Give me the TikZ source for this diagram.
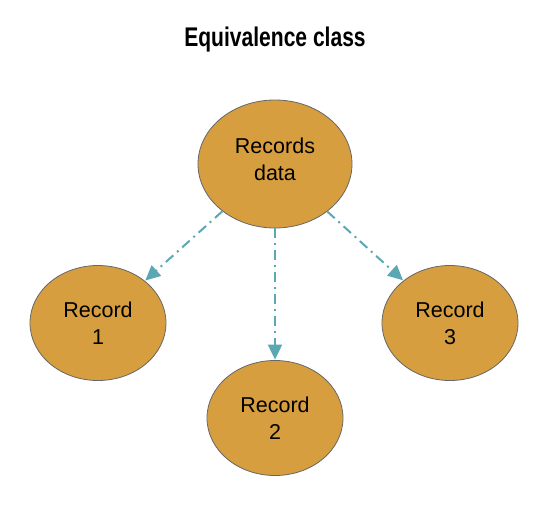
\documentclass[tikz,border=0pt]{standalone}
\usepackage{fontspec}
\setmainfont{Liberation Sans}
\newfontfamily\titlefont[FakeStretch=0.78]{Liberation Sans}
\usetikzlibrary{shapes.geometric,arrows.meta}
\definecolor{gold}{HTML}{D79E3F}
\definecolor{edge}{HTML}{666666}
\definecolor{teal}{HTML}{5BA8B5}
\begin{document}
\begin{tikzpicture}[x=1pt,y=-1pt,
  rec/.style={ellipse, draw=edge, line width=0.8pt, fill=gold, inner sep=0pt, align=center, font=\fontsize{21.5}{27}\selectfont},
  link/.style={draw=teal, line width=2pt, dash pattern=on 10pt off 5pt on 2pt off 5pt, -{Triangle[length=15pt,width=14pt]}, shorten >=0.5pt}]
\useasboundingbox (0,0) rectangle (543,506);
\node[font=\titlefont\bfseries\fontsize{27}{30}\selectfont] (title) at (275,40) {Equivalence class};
\node[rec, minimum width=154pt, minimum height=128pt, text depth=9pt] (root) at (275,164) {Records\\data};
\node[rec, minimum width=136pt, minimum height=115pt] (r1) at (98,323) {Record\\1};
\node[rec, minimum width=136pt, minimum height=115pt] (r2) at (275,418) {Record\\2};
\node[rec, minimum width=136pt, minimum height=115pt] (r3) at (450,323) {Record\\3};
\draw[link] (root) -- (r1);
\draw[link] (root) -- (r2);
\draw[link] (root) -- (r3);
\end{tikzpicture}
\end{document}
